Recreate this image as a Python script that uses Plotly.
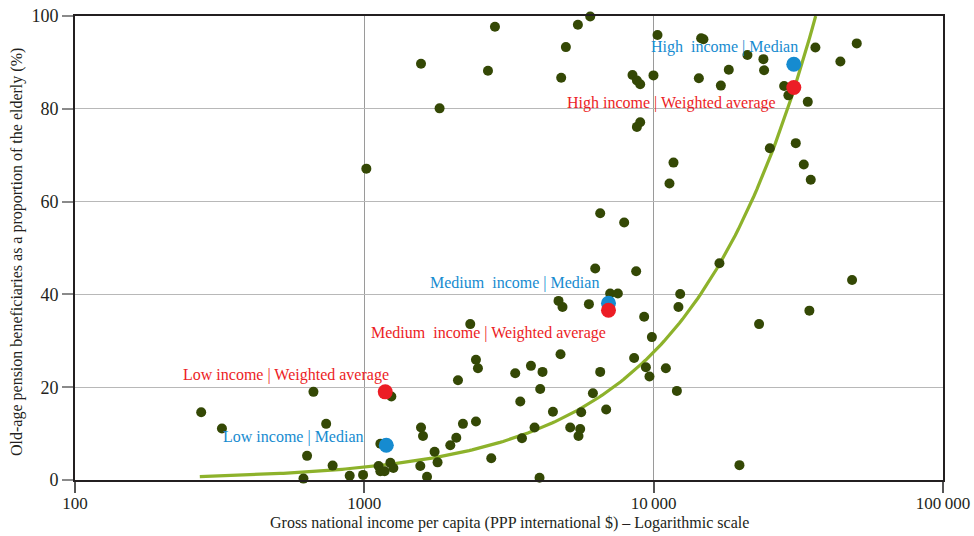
import numpy as np
import plotly.graph_objects as go

# Country points: GNI per capita (PPP int. $) and pension beneficiaries (%)
gni = [273, 322, 667, 738, 634, 616, 777, 890, 990, 1016,
       1136, 1120, 1136, 1175, 1230, 1260, 1240, 1561, 1647, 1570,
       1595, 1749, 1791, 1982, 2079, 2107, 2192, 2323, 2431, 2431,
       2470, 2746, 3323, 3459, 3506, 3766, 4054, 4129, 3876, 4032,
       4486, 4690, 4842, 4765, 5147, 5498, 5573, 5618, 5973, 6166,
       6280, 6535, 6853, 7074, 7521, 8700, 9272, 9858, 8561, 9399,
       9672, 11020, 12030, 12350, 12180, 16880, 23140, 34530, 48500, 19790,
       1570, 1820, 2675, 2828, 4791, 4973, 5472, 6035, 10310, 8449,
       8750, 8983, 9984, 8983, 8750, 6535, 7909, 11710, 11340, 14590,
       14860, 21090, 23950, 24080, 18180, 14330, 17070, 28240, 29220, 34090,
       36220, 44190, 50340, 30990, 25200, 33020, 34910]
coverage = [14.6, 11.1, 19.0, 12.1, 5.2, 0.3, 3.1, 0.9, 1.1, 67.1,
            7.8, 3.0, 1.9, 1.9, 3.7, 2.6, 18.0, 3.0, 0.7, 11.3,
            9.5, 6.1, 3.8, 7.5, 9.1, 21.5, 12.1, 33.6, 12.6, 25.9,
            24.1, 4.7, 23.0, 16.9, 9.0, 24.6, 19.6, 23.3, 11.3, 0.5,
            14.7, 38.6, 37.3, 27.1, 11.3, 9.5, 11.0, 14.6, 37.9, 18.7,
            45.6, 23.3, 15.2, 40.2, 40.2, 45.0, 35.2, 30.8, 26.3, 24.3,
            22.3, 24.1, 19.2, 40.1, 37.3, 46.7, 33.6, 36.5, 43.1, 3.2,
            89.7, 80.1, 88.2, 97.7, 86.7, 93.3, 98.1, 99.9, 95.9, 87.3,
            86.1, 85.3, 87.2, 77.1, 76.1, 57.5, 55.5, 68.4, 63.9, 95.2,
            95.0, 91.6, 90.7, 88.3, 88.4, 86.6, 85.0, 84.9, 82.9, 81.5,
            93.2, 90.2, 94.1, 72.6, 71.5, 68.0, 64.7]

# Group summary points
group_names = ["Low income", "Medium  income", "High  income"]
median_gni = [1191, 6980, 30500]
median_cov = [7.5, 38.1, 89.6]
wavg_gni = [1181, 6980, 30500]
wavg_cov = [19.0, 36.6, 84.6]

# Trend line (proportional fit)
trend_start = 270
trend_slope = 100 / 36300
trend_x = np.logspace(np.log10(trend_start), np.log10(100 / trend_slope), 200)
trend_y = trend_slope * trend_x

x_tickvals = [100, 1000, 10000, 100000]
x_ticktext = ["100", "1000", "10\u2009000", "100\u2009000"]
y_tickvals = [0, 20, 40, 60, 80, 100]

DARK = "#344805"
GREEN = "#8db22b"
BLUE = "#168bd0"
RED = "#ec1d25"
TXT = "#231f20"
FONT = "Liberation Serif"

fig = go.Figure()
fig.add_trace(go.Scatter(x=trend_x, y=trend_y, mode="lines",
                         line=dict(color=GREEN, width=3.2), hoverinfo="skip"))
fig.add_trace(go.Scatter(x=gni, y=coverage, mode="markers", cliponaxis=False,
                         marker=dict(color=DARK, size=10, line=dict(width=0))))
fig.add_trace(go.Scatter(x=median_gni, y=median_cov, mode="markers", cliponaxis=False,
                         marker=dict(color=BLUE, size=15, line=dict(width=0))))
fig.add_trace(go.Scatter(x=wavg_gni, y=wavg_cov, mode="markers", cliponaxis=False,
                         marker=dict(color=RED, size=15, line=dict(width=0))))

# Labels (x in log10 units for log axis)
labels = [
    ("High  income | Median", 4.2446, 93.4, BLUE),
    ("High income | Weighted average", 4.0615, 81.2, RED),
    ("Medium  income | Median", 3.5188, 42.5, BLUE),
    ("Medium  income | Weighted average", 3.4290, 31.7, RED),
    ("Low income | Weighted average", 2.7288, 22.6, RED),
    ("Low income | Median", 2.7554, 9.2, BLUE),
]
for text, lx, ly, col in labels:
    fig.add_annotation(x=lx, y=ly, xref="x", yref="y", text=text, showarrow=False,
                       xanchor="center", yanchor="middle",
                       font=dict(family=FONT, size=16, color=col))

fig.add_annotation(x=0.5, y=0, xref="paper", yref="paper", yshift=-43,
                   text="Gross national income per capita (PPP international $) – Logarithmic scale",
                   showarrow=False, xanchor="center", yanchor="middle",
                   font=dict(family=FONT, size=16, color=TXT))
fig.add_annotation(x=0, y=0.5, xref="paper", yref="paper", xshift=-58, yshift=-4,
                   text="Old-age pension beneficiaries as a proportion of the elderly (%)",
                   textangle=-90, showarrow=False, xanchor="center", yanchor="middle",
                   font=dict(family=FONT, size=16, color=TXT))

fig.update_layout(
    width=974, height=536,
    margin=dict(l=75, r=31, t=16, b=56),
    paper_bgcolor="white", plot_bgcolor="white",
    showlegend=False,
    font=dict(family=FONT, size=16, color=TXT),
)
fig.update_xaxes(type="log", range=[2, 5], tickvals=x_tickvals, ticktext=x_ticktext,
                 automargin=False, ticklabelstandoff=-4,
                 showgrid=True, gridcolor="#9a9a9a", gridwidth=1,
                 showline=True, linecolor=TXT, linewidth=2, mirror=True,
                 ticks="outside", ticklen=11, tickcolor="#555555", tickwidth=1.5,
                 zeroline=False, tickfont=dict(family=FONT, size=17, color=TXT))
fig.update_yaxes(range=[0, 100], tickvals=y_tickvals, automargin=False,
                 showgrid=True, gridcolor="#b8b8b8", gridwidth=1.2,
                 showline=True, linecolor=TXT, linewidth=2, mirror=True,
                 ticks="outside", ticklen=11, tickcolor="#8a8a8a", tickwidth=1.5,
                 zeroline=False, tickfont=dict(family=FONT, size=18, color=TXT))

fig.write_html("out.html", post_script="document.body.style.margin='0';",
               config={"displayModeBar": False})
